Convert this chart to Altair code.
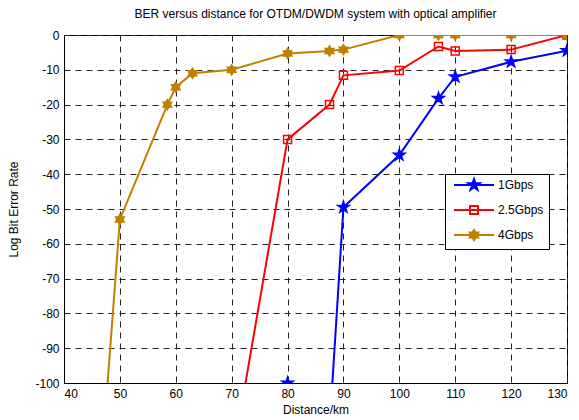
import math
import altair as alt
import pandas as pd

# ---- data ----
series_names = ["1Gbps", "2.5Gbps", "4Gbps"]
series_colors = ["#0000FF", "#FF0000", "#BF8000"]
series_fills = ["#0000FF", "transparent", "#BF8000"]

# first point of each series lies below the visible range (line enters from the bottom)
dist_1g = [80, 90, 100, 107, 110, 120, 130]
ber_1g = [-304, -49.5, -34.5, -18.2, -12, -7.7, -4.5]

dist_25g = [70, 80, 87.5, 90, 100, 107, 110, 120, 130]
ber_25g = [-123, -30, -20, -11.6, -10.2, -3.3, -4.6, -4.2, 0]

dist_4g = [40, 50, 58.5, 60, 63, 70, 80, 87.5, 90, 100, 107, 110, 120, 130]
ber_4g = [-267, -53, -20, -15, -11, -10, -5.3, -4.6, -4.2, 0, 0, 0, 0, 0]

# marker sitting on the bottom edge for 1Gbps
floor_dist = [80]
floor_ber = [-100]
floor_series = ["1Gbps"]

x_ticks = [40, 50, 60, 70, 80, 90, 100, 110, 120, 130]
y_ticks = [0, -10, -20, -30, -40, -50, -60, -70, -80, -90, -100]

# ---- tables ----
rows = []
for name, xs, ys in zip(series_names, [dist_1g, dist_25g, dist_4g], [ber_1g, ber_25g, ber_4g]):
    for i, (xv, yv) in enumerate(zip(xs, ys)):
        rows.append({"series": name, "dist": xv, "ber": yv, "idx": i})
df = pd.DataFrame(rows)

markers = df[df["ber"] >= -100].copy()
markers = pd.concat([markers, pd.DataFrame({"series": floor_series, "dist": floor_dist, "ber": floor_ber, "idx": 0})])


# ---- marker shapes ----
def star(n, r_out, r_in):
    pts = []
    for k in range(2 * n):
        r = r_out if k % 2 == 0 else r_in
        a = -math.pi / 2 + k * math.pi / n
        pts.append(f"{r * math.cos(a):.3f},{r * math.sin(a):.3f}")
    return "M" + "L".join(pts) + "Z"


star5 = star(5, 1.2, 0.46)
square = "M-0.8,-0.8L0.8,-0.8L0.8,0.8L-0.8,0.8Z"
hexa = star(6, 1.0, 0.6)
plot_shapes = [star5, square, hexa]
legend_line = "M-4,0L4,0"
legend_shapes = [legend_line + s for s in plot_shapes]

FONT = "Liberation Sans"

GRID = dict(grid=True, gridColor="#222222", gridDash=[6, 5], gridWidth=1, gridOpacity=1,
            ticks=False, domainColor="black", domainWidth=1,
            labelFont=FONT, labelFontSize=12, labelColor="black",
            titleFont=FONT, titleFontSize=12, titleFontWeight="normal", titleColor="black")

xaxis = alt.Axis(values=x_ticks, title="Distance/km", labelPadding=5, titlePadding=5, **GRID)
yaxis = alt.Axis(values=y_ticks, title="Log Bit Error Rate", labelPadding=5, titlePadding=14,
                 labelExpr="'' + datum.value", labelOverlap=False, **GRID)

xscale = alt.Scale(domain=[40, 130], nice=False, zero=False)
yscale = alt.Scale(domain=[-100, 0], nice=False, zero=False)


def xenc():
    return alt.X("dist:Q", scale=xscale, axis=xaxis)


def yenc():
    return alt.Y("ber:Q", scale=yscale, axis=yaxis)


color_scale = alt.Scale(domain=series_names, range=series_colors)
fill_scale = alt.Scale(domain=series_names, range=series_fills)

lines = alt.Chart(df).mark_line(clip=True, strokeWidth=2).encode(
    x=xenc(), y=yenc(),
    color=alt.Color("series:N", scale=color_scale, legend=None),
    order="idx:Q",
)

points = alt.Chart(markers).mark_point(clip=True, filled=True, size=100, strokeWidth=1.5, opacity=1).encode(
    x=xenc(), y=yenc(),
    shape=alt.Shape("series:N", scale=alt.Scale(domain=series_names, range=plot_shapes), legend=None),
    fill=alt.Fill("series:N", scale=fill_scale, legend=None),
    stroke=alt.Stroke("series:N", scale=color_scale, legend=None),
)

leg = alt.Legend(
    title=None, orient="none", legendX=381, legendY=139,
    strokeColor="black", fillColor="white", padding=5,
    symbolSize=100, symbolStrokeWidth=2, symbolOffset=18, labelOffset=18,
    rowPadding=8, labelFont=FONT, labelFontSize=12, labelColor="black",
)

legend_layer = alt.Chart(df).transform_filter("datum.dist < -1000").mark_point(
    filled=True, size=100, strokeWidth=2, opacity=1
).encode(
    x=xenc(), y=yenc(),
    shape=alt.Shape("series:N", scale=alt.Scale(domain=series_names, range=legend_shapes), legend=leg),
    fill=alt.Fill("series:N", scale=alt.Scale(domain=series_names, range=series_fills), legend=leg),
    stroke=alt.Stroke("series:N", scale=alt.Scale(domain=series_names, range=series_colors), legend=leg),
)

chart = alt.layer(lines, points, legend_layer).resolve_scale(
    shape="independent", fill="independent", stroke="independent", color="independent"
).properties(
    width=503, height=348,
    background="white",
    autosize=alt.AutoSizeParams(type="none"),
    padding={"left": 56, "top": 27, "right": 4, "bottom": 32},
    title=alt.TitleParams("BER versus distance for OTDM/DWDM system with optical amplifier",
                          font=FONT, fontSize=12, fontWeight="normal", color="black",
                          anchor="middle", frame="group", offset=8),
).configure_view(
    stroke="black", strokeWidth=1,
)

chart.save("out.html", embed_options={"renderer": "svg", "actions": False})
